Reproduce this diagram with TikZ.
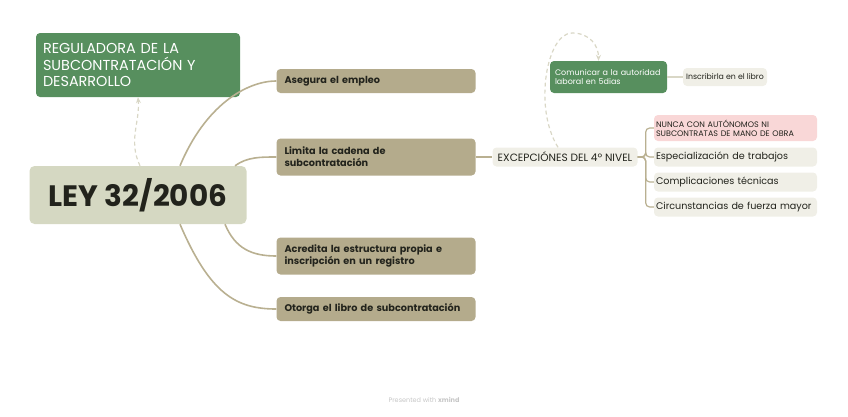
\documentclass[tikz,border=0pt]{standalone}
\usepackage{fontspec}
\setmainfont{Poppins}
\usetikzlibrary{calc,arrows.meta}
\definecolor{leyfill}{HTML}{D5D8C2}
\definecolor{regfill}{HTML}{578F5E}
\definecolor{tanfill}{HTML}{B4AB8C}
\definecolor{lightfill}{HTML}{F0EFE7}
\definecolor{pinkfill}{HTML}{F9D7D7}
\definecolor{linecol}{HTML}{B9B091}
\definecolor{dashcol}{HTML}{D9D7C6}
\definecolor{inkdark}{HTML}{22231C}

\begin{document}
\begin{tikzpicture}[x=1pt,y=-1pt,
  topic/.style={rounded corners=4pt, fill=tanfill, text=inkdark, align=left,
    font=\bfseries\fontsize{9.7}{12}\selectfont, text width=183pt, inner xsep=8pt, minimum height=24pt},
  subtopic/.style={rounded corners=4pt, fill=lightfill, text=inkdark, align=left,
    font=\fontsize{9.6}{12}\selectfont, text width=159pt, inner xsep=2pt, minimum height=19pt},
  branch/.style={draw=linecol, line width=1.6pt},
  link/.style={draw=dashcol, line width=1.2pt, dash pattern=on 4pt off 3pt, -{Stealth[length=6pt,width=5pt]}}]
\useasboundingbox (0,0) rectangle (848,416);

% central topic and label
\node[rounded corners=5pt, fill=leyfill, text=inkdark, minimum width=217pt, minimum height=58pt,
  font=\bfseries\fontsize{29.5}{32}\selectfont] (ley) at (138,195) {LEY 32/2006};
\node[rounded corners=4pt, fill=regfill, text=white, align=left, text width=190pt, inner xsep=7pt,
  minimum height=64pt, font=\fontsize{14.4}{16.5}\selectfont] (reg) at (138,65)
  {REGULADORA DE LA\\SUBCONTRATACIÓN Y\\DESARROLLO};

% main branches
\node[topic] (ase) at (376,81) {Asegura el empleo};
\node[topic, minimum height=37pt] (lim) at (376,157) {Limita la cadena de\\subcontratación};
\node[topic, minimum height=37pt] (acr) at (376,256) {Acredita la estructura propia e\\inscripción en un registro};
\node[topic] (oto) at (376,309) {Otorga el libro de subcontratación};

\draw[branch] ($(ley.north)+(42,0)$) .. controls +(25,-60) and +(-30,0) .. (ase.west);
\draw[branch] ($(ley.north)+(97,0)$) .. controls +(12,-9) and +(-15,0) .. (lim.west);
\draw[branch] ($(ley.south)+(87,0)$) .. controls +(10,24) and +(-25,0) .. (acr.west);
\draw[branch] ($(ley.south)+(42,0)$) .. controls +(30,70) and +(-40,0) .. (oto.west);

% exceptions
\node[rounded corners=4pt, fill=lightfill, text=inkdark, minimum width=145pt, minimum height=19pt,
  inner xsep=2pt, font=\fontsize{10.6}{12}\selectfont] (exc) at (565,157) {EXCEPCIÓNES DEL 4º NIVEL};
\draw[branch] (lim.east) -- (exc.west);

\node[rounded corners=4pt, fill=pinkfill, text=inkdark, align=left, text width=159pt, inner xsep=2pt,
  minimum height=26pt, font=\fontsize{8}{9}\selectfont] (nun) at (735.5,128)
  {NUNCA CON AUTÓNOMOS NI\\SUBCONTRATAS DE MANO DE OBRA};
\node[subtopic] (esp) at (735.5,157) {Especialización de trabajos};
\node[subtopic] (cpl) at (735.5,182) {Complicaciones técnicas};
\node[subtopic] (cir) at (735.5,207) {Circunstancias de fuerza mayor};

\foreach \n in {nun,esp,cpl,cir}
  \draw[branch, line width=1.2pt, rounded corners=4pt] (exc.east) -- ++(8,0) |- (\n.west);

% notice to authority
\node[rounded corners=4pt, fill=regfill, text=white, align=left, text width=107pt, inner xsep=5pt,
  minimum height=32pt, font=\fontsize{8}{9}\selectfont] (com) at (608.5,77)
  {Comunicar a la autoridad\\laboral en 5dias};
\node[rounded corners=4pt, fill=lightfill, text=inkdark, minimum width=84pt, minimum height=18pt,
  inner xsep=2pt, font=\fontsize{7.8}{9}\selectfont] (ins) at (725,77) {Inscribirla en el libro};
\draw[draw=dashcol, line width=1.6pt] (com.east) -- (ins.west);

% relationships
\draw[link] ($(ley.north)+(2,0)$) .. controls +(-12,-25) and +(2,25) .. (reg.south);
\draw[link] ($(exc.north)+(-7,0)$) .. controls +(-25,-40) and +(-25,0) .. (572,33)
  .. controls +(18,0) and +(0,-15) .. ($(com.north)+(-10,0)$);

% footer
\node[text=gray!45, font=\fontsize{6.5}{8}\selectfont] (foot) at (424,400)
  {Presented with \textbf{xmind}};
\end{tikzpicture}
\end{document}
